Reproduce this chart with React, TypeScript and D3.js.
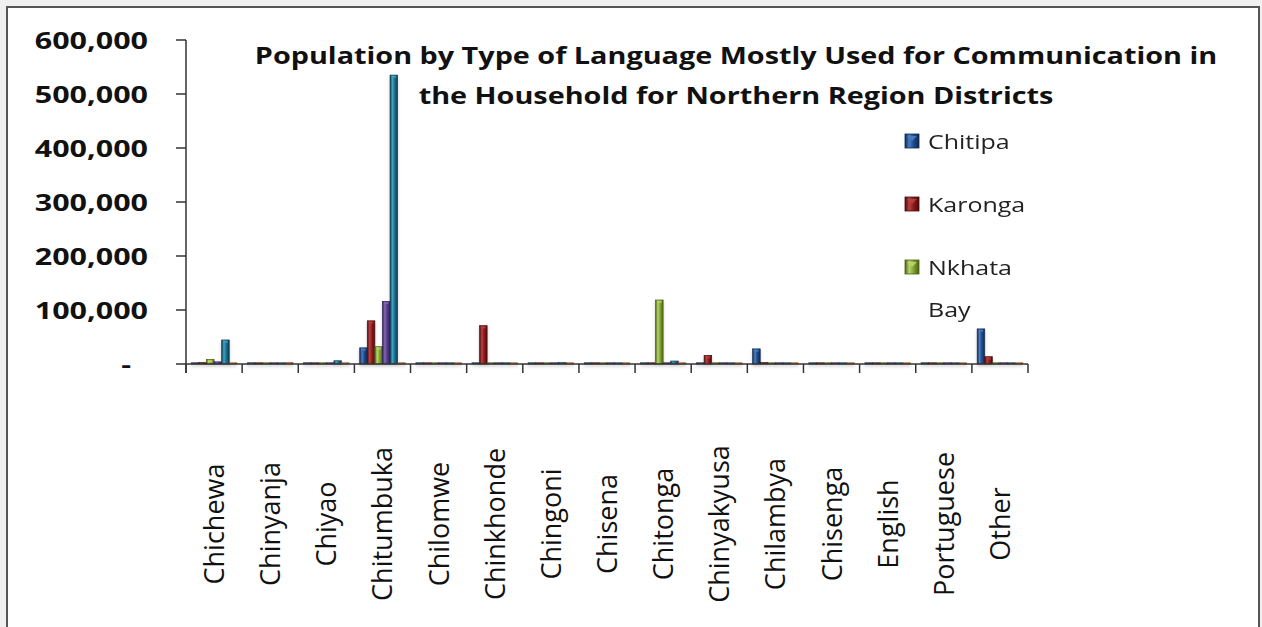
import React from "react";
import * as d3 from "d3";

const categories = ["Chichewa","Chinyanja","Chiyao","Chitumbuka","Chilomwe","Chinkhonde","Chingoni","Chisena","Chitonga","Chinyakyusa","Chilambya","Chisenga","English","Portuguese","Other"];
const seriesNames = ["Chitipa","Karonga","Nkhata Bay","Rumphi","Mzimba","Likoma"];
const chitipa = [1500,1200,800,30000,1000,1500,800,600,800,1000,28000,600,800,500,65000];
const karonga = [2500,1500,1000,80000,1000,71000,1000,600,800,16000,2500,600,800,300,13500];
const nkhataBay = [8500,1200,800,32000,800,500,1000,600,118500,500,500,600,800,500,1000];
const rumphi = [4000,1500,1000,116000,1000,1000,1500,800,1000,1000,1000,600,800,500,1000];
const mzimba = [44500,1500,6000,535000,1200,1200,2500,800,5500,1000,1000,600,800,500,1000];
const likoma = [800,3000,800,800,300,800,500,300,800,300,300,300,800,300,1000];
const yTicks = [0,100000,200000,300000,400000,500000,600000];
const titleLines = ["Population by Type of Language Mostly Used for Communication in","the Household for Northern Region Districts"];
const legendShown = ["Chitipa","Karonga","Nkhata Bay"];

const seriesValues = [chitipa, karonga, nkhataBay, rumphi, mzimba, likoma];
const palette = [
  { base: "#1f4e8c", light: "#4a7cc4", dark: "#0e2850" },
  { base: "#8e1b1b", light: "#b84040", dark: "#4a0a0a" },
  { base: "#84a532", light: "#b9d56c", dark: "#4a6112" },
  { base: "#5b3b8c", light: "#8466b4", dark: "#32205a" },
  { base: "#1e6f8e", light: "#41a2c2", dark: "#0c3b4e" },
  { base: "#e58a45", light: "#f7b47e", dark: "#a85520" },
];

const W = 1262, H = 627;
const plotL = 186, plotR = 1028, plotT = 40, plotB = 364;
const FONT = "'Open Sans', sans-serif";

export default function App() {
  const x0 = d3.scaleBand<string>().domain(categories).range([plotL, plotR]).paddingInner(0).paddingOuter(0);
  const x1 = d3.scaleBand<string>().domain(seriesNames).range([0, x0.bandwidth()]).paddingInner(0).paddingOuter(0.7);
  const y = d3.scaleLinear().domain([0, 600000]).range([plotB, plotT]);
  const fmt = d3.format(",");
  const boundaries = categories.map((c) => x0(c) as number).concat([plotR]);

  return (
    <div style={{ position: "absolute", left: 0, top: 0 }}>
      <svg width={W} height={H} style={{ display: "block" }}>
        <defs>
          {palette.map((p, i) => (
            <linearGradient key={i} id={`g${i}`} x1="0" x2="1" y1="0" y2="0">
              <stop offset="0" stopColor={p.dark} />
              <stop offset="0.3" stopColor={p.light} />
              <stop offset="0.6" stopColor={p.base} />
              <stop offset="1" stopColor={p.dark} />
            </linearGradient>
          ))}
          <filter id="shadow" x="-50%" y="-20%" width="200%" height="160%">
            <feDropShadow dx="0" dy="2" stdDeviation="1.5" floodColor="#888" floodOpacity="0.45" />
          </filter>
        </defs>
        <rect x={0} y={0} width={W} height={H} fill="#f0f0f0" />
        <rect x={7} y={7} width={1252} height={H} fill="#ffffff" stroke="#555" strokeWidth={2} />

        {/* title */}
        {titleLines.map((t, i) => (
          <text key={i} transform={`translate(736,${64 + i * 40}) scale(1.2,1)`} textAnchor="middle"
            fontFamily={FONT} fontWeight={700} fontSize={24} fill="#111">{t}</text>
        ))}

        {/* bars */}
        <g filter="url(#shadow)">
          {categories.map((c, ci) => (
            <g key={c} transform={`translate(${x0(c)},0)`}>
              {seriesNames.map((s, si) => {
                const v = seriesValues[si][ci];
                const yy = y(v);
                const h = Math.max(plotB - yy, 1.2);
                return (
                  <g key={s}>
                    <rect x={x1(s)} y={plotB - h} width={x1.bandwidth()} height={h}
                      fill={`url(#g${si})`} stroke={palette[si].dark} strokeWidth={0.7} />
                    {h > 4 && (
                      <rect x={(x1(s) as number) + 1.5} y={plotB - h + 0.8} width={x1.bandwidth() - 3} height={2}
                        fill={palette[si].light} opacity={0.8} />
                    )}
                  </g>
                );
              })}
            </g>
          ))}
        </g>

        {/* axes */}
        <g stroke="#333" strokeWidth={1.5} fill="none">
          <line x1={plotL} x2={plotL} y1={plotT} y2={plotB + 9} />
          <line x1={plotL} x2={plotR} y1={plotB} y2={plotB} />
          {yTicks.map((t) => (
            <line key={t} x1={plotL - 10} x2={plotL} y1={y(t)} y2={y(t)} />
          ))}
          {boundaries.map((b, i) => (
            <line key={i} x1={b} x2={b} y1={plotB} y2={plotB + 9} />
          ))}
        </g>

        {/* y labels */}
        {yTicks.map((t) => (
          <text key={t} transform={`translate(${t === 0 ? 131 : 148},${y(t) + 8.5}) scale(1.27,1)`} textAnchor="end"
            fontFamily={FONT} fontWeight={700} fontSize={24} fill="#111">{t === 0 ? "-" : fmt(t)}</text>
        ))}

        {/* x labels */}
        {categories.map((c) => {
          const cx = (x0(c) as number) + x0.bandwidth() / 2 + 10;
          return (
            <text key={c} transform={`translate(${cx},524) rotate(-90)`} textAnchor="middle"
              fontFamily={FONT} fontSize={27} fill="#111">{c}</text>
          );
        })}

        {/* legend */}
        {legendShown.map((s, i) => {
          const ly = 141 + i * 63;
          const words = s.split(" ");
          return (
            <g key={s}>
              <rect x={905} y={ly - 7} width={14} height={14} fill={`url(#g${i})`} stroke={palette[i].dark} strokeWidth={0.8} />
              <path d={`M907,${ly - 5} L917,${ly - 5} L912,${ly} Z`} fill={palette[i].light} opacity={0.9} />
              {words.map((w, wi) => (
                <text key={wi} transform={`translate(928,${ly + 8 + wi * 42}) scale(1.25,1)`}
                  fontFamily={FONT} fontSize={20} fill="#222">{w}</text>
              ))}
            </g>
          );
        })}
      </svg>
    </div>
  );
}
